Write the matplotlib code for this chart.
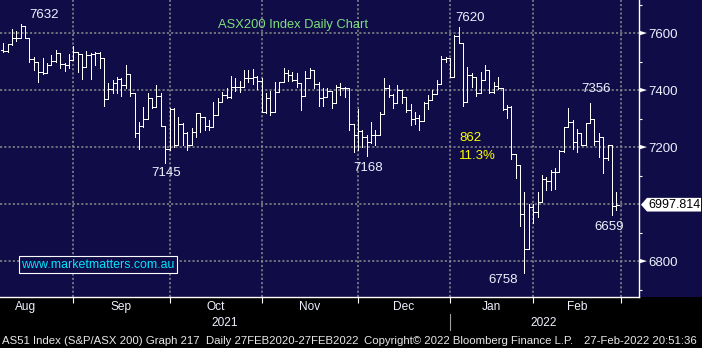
import matplotlib
matplotlib.use("Agg")
import matplotlib.pyplot as plt
import matplotlib.transforms as mtransforms
from matplotlib.collections import LineCollection
from matplotlib.patches import Polygon, Rectangle

plt.rcParams['font.family'] = ['Liberation Sans', 'DejaVu Sans']

# ASX200 daily bars (trading-day index 0 = early August 2021)
opens = [7540, 7537, 7560, 7584, 7584, 7625, 7581, 7509, 7500, 7462,
         7459, 7488, 7502, 7529, 7490, 7488, 7505, 7532, 7525, 7482,
         7523, 7525, 7529, 7514, 7367, 7403, 7424, 7438, 7418, 7456,
         7389, 7250, 7274, 7297, 7371, 7342, 7379, 7274, 7195, 7334,
         7207, 7281, 7250, 7207, 7254, 7318, 7304, 7274, 7271, 7311,
         7359, 7383, 7375, 7412, 7412, 7412, 7441, 7441, 7447, 7432,
         7322, 7371, 7324, 7392, 7427, 7459, 7453, 7435, 7424, 7380,
         7441, 7470, 7420, 7371, 7377, 7397, 7353, 7412, 7406, 7406,
         7280, 7242, 7256, 7236, 7217, 7242, 7242, 7315, 7406, 7383,
         7353, 7400, 7377, 7330, 7298, 7303, 7293, 7353, 7365, 7386,
         7421, 7508, 7511, 7445, 7590, 7564, 7359, 7453, 7447, 7391,
         7435, 7470, 7394, 7414, 7406, 7332, 7342, 7176, 7137, 6965,
         6841, 6991, 6973, 7008, 7087, 7082, 7113, 7113, 7187, 7269,
         7289, 7219, 7248, 7207, 7283, 7297, 7222, 7234, 7160, 7207,
         6993]
highs = [7564, 7560, 7614, 7607, 7632, 7625, 7581, 7517, 7500, 7514,
         7494, 7523, 7541, 7529, 7494, 7525, 7556, 7532, 7525, 7537,
         7529, 7532, 7532, 7514, 7426, 7435, 7445, 7441, 7488, 7456,
         7389, 7289, 7342, 7389, 7371, 7418, 7389, 7274, 7336, 7336,
         7304, 7283, 7254, 7266, 7320, 7318, 7306, 7295, 7357, 7371,
         7392, 7406, 7449, 7443, 7432, 7470, 7470, 7474, 7450, 7441,
         7389, 7397, 7429, 7429, 7476, 7470, 7464, 7459, 7424, 7467,
         7476, 7470, 7429, 7406, 7406, 7397, 7418, 7424, 7412, 7406,
         7280, 7334, 7260, 7242, 7289, 7260, 7324, 7441, 7418, 7385,
         7418, 7400, 7377, 7350, 7322, 7312, 7359, 7383, 7400, 7435,
         7519, 7517, 7511, 7593, 7620, 7564, 7482, 7461, 7447, 7464,
         7488, 7470, 7429, 7445, 7406, 7348, 7344, 7176, 7137, 7043,
         7001, 6999, 7043, 7101, 7094, 7119, 7125, 7190, 7269, 7336,
         7295, 7262, 7248, 7283, 7356, 7297, 7248, 7234, 7207, 7207,
         7043]
lows = [7535, 7535, 7558, 7572, 7584, 7581, 7499, 7470, 7429, 7455,
        7459, 7488, 7500, 7478, 7467, 7478, 7505, 7464, 7439, 7482,
        7439, 7488, 7478, 7345, 7367, 7389, 7389, 7379, 7406, 7379,
        7236, 7195, 7271, 7297, 7336, 7342, 7274, 7145, 7190, 7200,
        7207, 7207, 7190, 7207, 7236, 7254, 7260, 7260, 7271, 7311,
        7357, 7373, 7373, 7397, 7394, 7412, 7427, 7420, 7404, 7322,
        7318, 7312, 7324, 7392, 7427, 7432, 7432, 7412, 7330, 7380,
        7441, 7406, 7345, 7345, 7377, 7338, 7353, 7383, 7377, 7260,
        7184, 7190, 7201, 7168, 7213, 7207, 7242, 7315, 7377, 7338,
        7353, 7353, 7324, 7277, 7280, 7260, 7293, 7332, 7365, 7386,
        7421, 7500, 7445, 7445, 7564, 7344, 7359, 7412, 7379, 7389,
        7435, 7391, 7391, 7403, 7330, 7301, 7157, 7090, 6923, 6758,
        6841, 6934, 6956, 7008, 7049, 7049, 7052, 7113, 7184, 7269,
        7195, 7184, 7207, 7207, 7283, 7207, 7166, 7110, 7155, 6962,
        6979]
closes = [7537, 7560, 7584, 7584, 7625, 7581, 7509, 7500, 7462, 7459,
          7488, 7502, 7529, 7490, 7488, 7505, 7532, 7525, 7482, 7523,
          7525, 7529, 7514, 7367, 7403, 7424, 7438, 7418, 7456, 7389,
          7250, 7274, 7297, 7371, 7342, 7379, 7274, 7195, 7334, 7207,
          7281, 7250, 7207, 7254, 7318, 7304, 7274, 7271, 7311, 7359,
          7383, 7375, 7412, 7412, 7412, 7441, 7441, 7447, 7432, 7322,
          7371, 7324, 7392, 7427, 7459, 7453, 7435, 7424, 7380, 7441,
          7470, 7420, 7371, 7377, 7397, 7353, 7412, 7406, 7406, 7280,
          7242, 7256, 7236, 7217, 7242, 7242, 7315, 7406, 7383, 7353,
          7400, 7377, 7330, 7298, 7303, 7293, 7353, 7365, 7386, 7421,
          7508, 7511, 7445, 7590, 7564, 7359, 7453, 7447, 7391, 7435,
          7470, 7394, 7414, 7406, 7332, 7342, 7176, 7137, 6965, 6841,
          6991, 6973, 7008, 7087, 7082, 7113, 7113, 7187, 7269, 7289,
          7219, 7248, 7207, 7283, 7297, 7222, 7234, 7160, 7207, 6993,
          6997.814]

month_starts = [16, 38, 59, 81, 102, 121, 141]
month_names = ["Aug", "Sep", "Oct", "Nov", "Dec", "Jan", "Feb"]
month_centers = [5, 27, 48.5, 70, 91.5, 111.5, 131]
year_names = ["2021", "2022"]
year_centers = [50.6, 123.5]
year_break = 102
price_ticks = [6800, 7200, 7400, 7600]
minor_ticks = [6700, 6900, 7100, 7300, 7500, 7700]
grid_levels = [6800, 7000, 7200, 7400, 7600]

# swing annotations: (text, bar index, value)
swing_labels = [("7632", 9.3, 7663), ("7620", 106.5, 7653), ("7356", 135.4, 7404),
                ("7145", 37.3, 7109), ("7168", 83.4, 7126), ("6758", 114.2, 6733),
                ("6659", 138.3, 6919)]

NAVY = '#0f0c47'
GRID = '#8c8c8c'
LIGHT = '#eef2ff'
W, H = 702, 348

fig = plt.figure(figsize=(W / 100, H / 100), dpi=100, facecolor=NAVY)
fig.add_artist(Rectangle((0, 0), 1, 51 / H, transform=fig.transFigure,
                         facecolor='black', edgecolor='none', zorder=0))

ax = fig.add_axes([0, 51 / H, 639 / W, 297 / H])
ax.set_facecolor(NAVY)
ax.set_xlim(-0.73, 145.16)
ax.set_ylim(6674, 7716)

for s in ('top', 'left'):
    ax.spines[s].set_visible(False)
for s in ('right', 'bottom'):
    ax.spines[s].set_color('white')
    ax.spines[s].set_linewidth(1.0)

# dotted grid
for lvl in grid_levels:
    ax.axhline(lvl, color=GRID, lw=1.1, ls=(0, (1.4, 1.4)), zorder=1)
for m in month_starts:
    ax.axvline(m, color=GRID, lw=1.1, ls=(0, (1.4, 1.4)), zorder=1)

# OHLC bars
segs = []
for i, (o, h, l, c) in enumerate(zip(opens, highs, lows, closes)):
    segs.append([(i, l), (i, h)])
    segs.append([(i - 0.5, o), (i, o)])
    segs.append([(i, c), (i + 0.5, c)])
ax.add_collection(LineCollection(segs, colors='white', linewidths=0.72,
                                 antialiaseds=False, zorder=3))

# right price axis
ax.yaxis.tick_right()
ax.set_yticks(price_ticks)
ax.set_yticklabels([str(v) for v in price_ticks])
ax.tick_params(axis='y', which='major', length=0, pad=6.5,
               labelcolor=LIGHT, labelsize=9.5)
ax.set_yticks(minor_ticks, minor=True)
ax.tick_params(axis='y', which='minor', length=2.5, width=0.8,
               color='white', direction='out')

ax.set_xticks(month_starts)
ax.set_xticklabels([])
ax.tick_params(axis='x', length=4, width=0.8, color='white', direction='out')

fy = mtransforms.blended_transform_factory(fig.transFigure, ax.transData)
for v in price_ticks:
    fig.add_artist(Polygon([(640 / W, v + 7.5), (640 / W, v - 7.5), (647 / W, v)],
                           closed=True, transform=fy, facecolor='white',
                           edgecolor='none', zorder=5))

last = closes[-1]
fig.add_artist(Polygon([(641 / W, last), (647 / W, last + 24), (701 / W, last + 24),
                        (701 / W, last - 24), (647 / W, last - 24)],
                       closed=True, transform=fy, facecolor='white',
                       edgecolor='none', zorder=5))
fig.text(648 / W, last, f"{last:.3f}", transform=fy, color='black', fontsize=9,
         va='center', ha='left', zorder=6)

# chart annotations
ax.text(49.0, 7628, "ASX200 Index Daily Chart", color='#7ee07e', fontsize=9.3,
        ha='left', va='center', zorder=6)
for txt, x, y in swing_labels:
    ax.text(x, y, txt, color=LIGHT, fontsize=9.5, ha='center', va='center', zorder=6)
ax.text(104.1, 7232, "862", color='#ffff00', fontsize=9.5, ha='left', va='center', zorder=6)
ax.text(104.1, 7169, "11.3%", color='#ffff00', fontsize=9.5, ha='left', va='center', zorder=6)

fig.add_artist(Rectangle((19 / W, 1 - 273 / H), 158 / W, 17 / H, transform=fig.transFigure,
                         facecolor=NAVY, edgecolor='white', lw=0.8, zorder=7))
fig.text(21 / W, 1 - 264.5 / H, "www.marketmatters.com.au", color='#00e6ff',
         fontsize=8.9, ha='left', va='center', zorder=8)

# time axis labels
fx = mtransforms.blended_transform_factory(ax.transData, fig.transFigure)
for name, c in zip(month_names, month_centers):
    fig.text(c, 1 - 307 / H, name, transform=fx, color=LIGHT, fontsize=8.6,
             ha='center', va='center')
for name, c in zip(year_names, year_centers):
    fig.text(c, 1 - 323 / H, name, transform=fx, color=LIGHT, fontsize=8.6,
             ha='center', va='center')
fig.add_artist(plt.Line2D([year_break, year_break], [1 - 314 / H, 1 - 330 / H],
                          transform=fx, color='#a0a0a0', lw=0.8))

footer_y = 1 - 340.5 / H
for txt, x in [("AS51 Index (S&P/ASX 200) Graph 217", 2),
               ("Daily 27FEB2020-27FEB2022", 206),
               ("Copyright\u00a9 2022 Bloomberg Finance L.P.", 364),
               ("27-Feb-2022 20:51:36", 584)]:
    fig.text(x / W, footer_y, txt, color='#e8e8e8', fontsize=8.2, ha='left', va='center')

fig.savefig("out.png", dpi=100, facecolor=fig.get_facecolor())
